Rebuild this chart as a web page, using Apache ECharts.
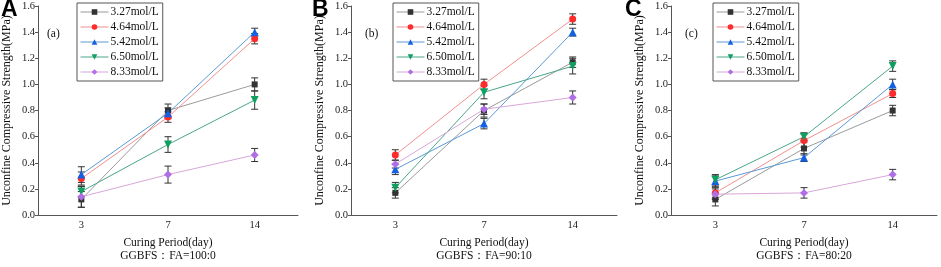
<!DOCTYPE html>
<html>
<head>
<meta charset="utf-8">
<script src="https://cdn.jsdelivr.net/npm/echarts@6/dist/echarts.min.js"></script>
<style>
  html, body { margin: 0; padding: 0; background: #fff; }
  #main { width: 941px; height: 267px; }
</style>
</head>
<body>
<div id="main"></div>
<script>
// curing days and solution concentrations
const days = ['3', '7', '14'];
const solutions = ['3.27mol/L', '4.64mol/L', '5.42mol/L', '6.50mol/L', '8.33mol/L'];

// UCS (MPa), one row per solution, columns = days
const strengthA = [[0.12, 0.80, 1.00], [0.28, 0.75, 1.35], [0.31, 0.78, 1.40], [0.18, 0.54, 0.88], [0.14, 0.31, 0.46]];
const errorA = [[0.06, 0.05, 0.05], [0.05, 0.04, 0.04], [0.06, 0.04, 0.03], [0.04, 0.06, 0.07], [0.08, 0.065, 0.05]];
const strengthB = [[0.17, 0.80, 1.17], [0.46, 1.00, 1.50], [0.35, 0.70, 1.40], [0.21, 0.94, 1.14], [0.39, 0.81, 0.90]];
const errorB = [[0.04, 0.05, 0.04], [0.04, 0.04, 0.04], [0.04, 0.04, 0.03], [0.04, 0.05, 0.06], [0.03, 0.04, 0.05]];
const strengthC = [[0.12, 0.51, 0.80], [0.17, 0.57, 0.93], [0.26, 0.44, 1.00], [0.27, 0.60, 1.14], [0.16, 0.17, 0.31]];
const errorC = [[0.05, 0.05, 0.04], [0.04, 0.05, 0.03], [0.04, 0.03, 0.04], [0.04, 0.03, 0.04], [0.04, 0.04, 0.04]];

const markerColors = ['#333333', '#ff2a2a', '#1560e0', '#0fa060', '#b06ee6'];
const lineColors = ['#9a9a9a', '#f09090', '#5a9ad6', '#4aa58a', '#d8a6d8'];
const symbols = ['rect', 'circle', 'triangle', 'path://M0,0 L10,0 L5,9 Z', 'diamond'];
const symbolSizes = [6, 7, 8, 8, 8];

const serif = 'Liberation Serif';

const panels = [
  { letter: 'A', tag: '(a)', ratio: 'GGBFS：FA=100:0', vals: strengthA, errs: errorA,
    grid: { left: 32, right: 643, top: 6, bottom: 47 }, legendLeft: 77, tagX: 47, letterX: 1 },
  { letter: 'B', tag: '(b)', ratio: 'GGBFS：FA=90:10', vals: strengthB, errs: errorB,
    grid: { left: 351, right: 324, top: 6, bottom: 48 }, legendLeft: 393, tagX: 365, letterX: 312 },
  { letter: 'C', tag: '(c)', ratio: 'GGBFS：FA=80:20', vals: strengthC, errs: errorC,
    grid: { left: 671, right: 4, top: 6, bottom: 47 }, legendLeft: 713, tagX: 685, letterX: 625 }
];

function errorBarItem(params, api) {
  let x = api.value(0);
  let lo = api.coord([x, api.value(1)]);
  let hi = api.coord([x, api.value(2)]);
  let cap = 3.5;
  let style = { stroke: '#333', lineWidth: 1, fill: null };
  return {
    type: 'group',
    children: [
      { type: 'line', shape: { x1: lo[0], y1: lo[1], x2: hi[0], y2: hi[1] }, style: style },
      { type: 'line', shape: { x1: lo[0] - cap, y1: lo[1], x2: lo[0] + cap, y2: lo[1] }, style: style },
      { type: 'line', shape: { x1: hi[0] - cap, y1: hi[1], x2: hi[0] + cap, y2: hi[1] }, style: style }
    ]
  };
}

let option = {
  animation: false,
  textStyle: { fontFamily: serif },
  grid: [],
  xAxis: [],
  yAxis: [],
  legend: [],
  series: [],
  graphic: []
};

panels.forEach(function (p, k) {
  option.grid.push(p.grid);
  option.xAxis.push({
    type: 'category',
    gridIndex: k,
    data: days,
    boundaryGap: true,
    name: 'Curing Period(day)\n' + p.ratio,
    nameLocation: 'middle',
    nameGap: 18,
    nameTextStyle: { fontFamily: serif, fontSize: 11.5, color: '#111', lineHeight: 13 },
    axisLine: { lineStyle: { color: '#555', width: 1 } },
    axisTick: { alignWithLabel: true, length: 3, lineStyle: { color: '#555' } },
    axisLabel: { fontFamily: serif, fontSize: 10.5, color: '#222', margin: 5 },
    splitLine: { show: false }
  });
  option.yAxis.push({
    type: 'value',
    gridIndex: k,
    min: 0,
    max: 1.6,
    interval: 0.2,
    name: 'Unconfine Compressive Strength(MPa)',
    nameLocation: 'middle',
    nameGap: 25,
    nameTextStyle: { fontFamily: serif, fontSize: 12, color: '#111' },
    axisLine: { show: true, lineStyle: { color: '#555', width: 1 } },
    axisTick: { show: true, length: 3, lineStyle: { color: '#555' } },
    axisLabel: { fontFamily: serif, fontSize: 10.5, color: '#222', margin: 3,
      formatter: function (v) { return v.toFixed(1); } },
    splitLine: { show: false }
  });
  option.legend.push({
    data: solutions.map(function (name, i) {
      return { name: name, lineStyle: { color: lineColors[i], width: 1 }, itemStyle: { color: markerColors[i] } };
    }),
    left: p.legendLeft,
    top: 3,
    orient: 'vertical',
    itemWidth: 28,
    itemHeight: 7,
    itemGap: 3,
    padding: [3, 4, 3, 3],
    borderColor: '#555',
    borderWidth: 1,
    textStyle: { fontFamily: serif, fontSize: 11.5, color: '#111', padding: [0, 0, 0, -3] }
  });
  solutions.forEach(function (name, i) {
    option.series.push({
      name: name,
      type: 'line',
      xAxisIndex: k,
      yAxisIndex: k,
      data: p.vals[i],
      symbol: symbols[i],
      symbolSize: symbolSizes[i],
      showAllSymbol: true,
      itemStyle: { color: markerColors[i] },
      lineStyle: { color: lineColors[i], width: 1 },
      z: 3
    });
    option.series.push({
      name: name + ' error',
      type: 'custom',
      xAxisIndex: k,
      yAxisIndex: k,
      renderItem: errorBarItem,
      encode: { x: 0, y: [1, 2] },
      data: p.vals[i].map(function (v, j) { return [j, v - p.errs[i][j], v + p.errs[i][j]]; }),
      z: 1,
      silent: true
    });
  });
  option.graphic.push({
    type: 'text', left: p.letterX, top: -2,
    style: { text: p.letter, font: 'bold 23px "Liberation Sans"', fill: '#000' }
  });
  option.graphic.push({
    type: 'text', left: p.tagX, top: 28,
    style: { text: p.tag, font: '11.5px "Liberation Serif"', fill: '#111' }
  });
});

let chart = echarts.init(document.getElementById('main'), null, { renderer: 'canvas' });
chart.setOption(option);
</script>
</body>
</html>
